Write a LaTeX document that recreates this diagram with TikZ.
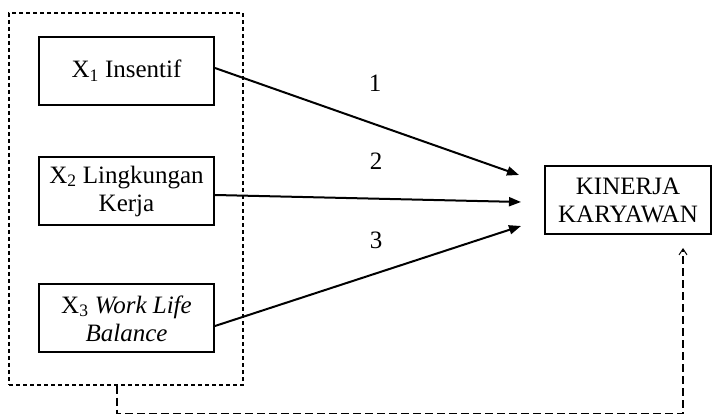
\documentclass[tikz,border=0pt]{standalone}
\usepackage{fontspec}
\setmainfont{Liberation Serif}
\usetikzlibrary{arrows.meta}
\begin{document}
\begin{tikzpicture}[x=1pt,y=-1pt,
  txt/.style={font=\fontsize{25}{28}\selectfont},
  box/.style={txt,draw,line width=2pt,minimum width=175pt,minimum height=68pt,inner sep=2pt,align=center},
  grpbox/.style={draw,line width=1.2pt,dash pattern=on 4pt off 3pt,minimum width=234pt,minimum height=372pt},
  arr/.style={line width=2pt,-{Triangle[length=12pt,width=9pt]}},
  fb/.style={line width=1.5pt,dash pattern=on 8pt off 4pt,-{Straight Barb[length=6pt,width=8pt,line width=1pt]}}]
\useasboundingbox (0,0) rectangle (712,419);
\node[grpbox] (grp) at (126,199) {};
\node[box] (b1) at (126.5,71) {X\textsubscript{1} Insentif};
\node[box] (b2) at (126.5,191) {X\textsubscript{2} Lingkungan\\Kerja};
\node[box] (b3) at (126.5,318.5) {X\textsubscript{3} \textit{Work Life}\\\textit{Balance}};
\node[box,minimum width=166pt] (k) at (628,200) {KINERJA\\KARYAWAN};
\node[txt] (l1) at (375,83) {1};
\node[txt] (l2) at (376,161) {2};
\node[txt] (l3) at (376,240) {3};
\draw[arr] ([yshift=3pt]b1.east) -- ([xshift=-25pt,yshift=25pt]k.west);
\draw[arr] ([yshift=-4pt]b2.east) -- ([xshift=-23pt,yshift=-2pt]k.west);
\draw[arr] ([yshift=-7.5pt]b3.east) -- ([xshift=-23pt,yshift=-26pt]k.west);
\draw[fb] ([xshift=-9pt]grp.south) -- ++(0,28) -| ([xshift=55pt,yshift=-13pt]k.south);
\end{tikzpicture}
\end{document}
